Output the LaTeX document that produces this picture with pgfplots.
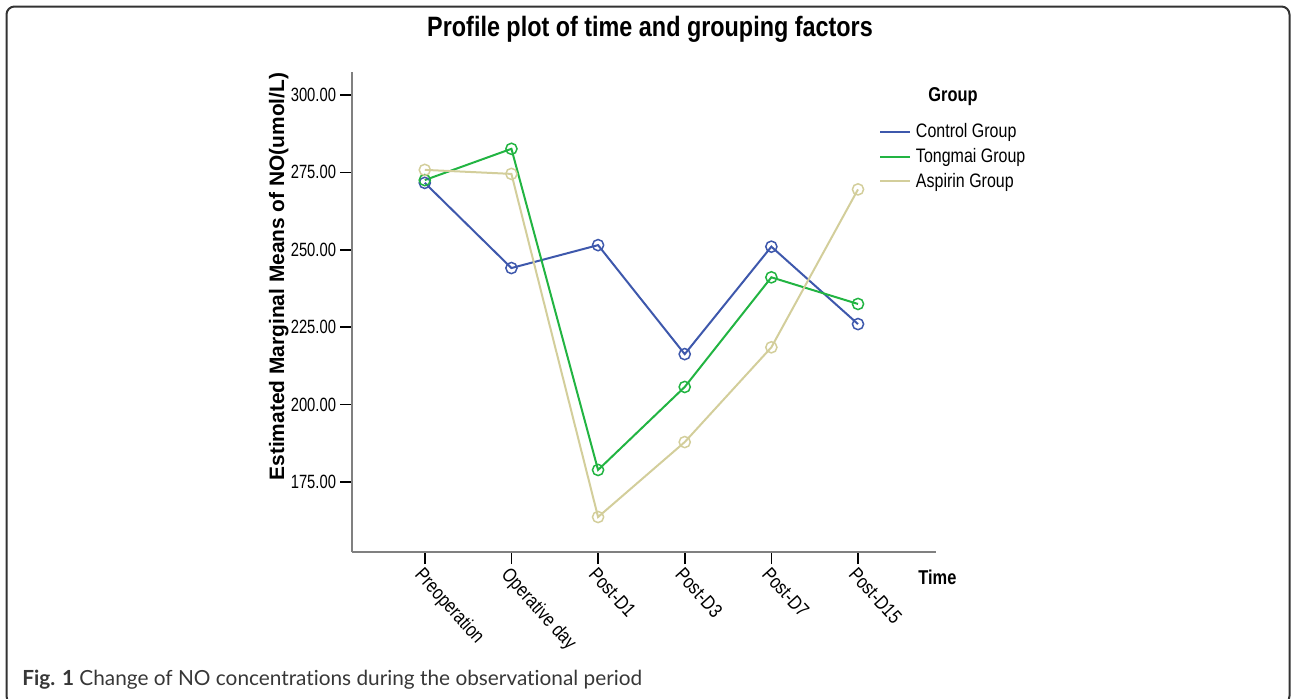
\documentclass[border=0pt]{standalone}
\usepackage{pgfplots}
\pgfplotsset{compat=1.18}
\usepackage{fontspec}
\setmainfont{Liberation Sans}
\newfontfamily\nfont{Liberation Sans}[FakeStretch=0.82]
\newfontfamily\tfont{Liberation Sans}[FakeStretch=0.835]
\newfontfamily\tickfont{Liberation Sans}[FakeStretch=0.77]
\newfontfamily\capfont{Lato}[Ligatures=NoCommon]
\definecolor{cblue}{RGB}{62,88,172}
\definecolor{cgreen}{RGB}{34,180,66}
\definecolor{cbeige}{RGB}{211,206,155}
\definecolor{axgray}{RGB}{128,128,128}
\definecolor{capgray}{RGB}{55,55,55}
\begin{document}
\begin{tikzpicture}
\path[use as bounding box] (0,0) rectangle (646pt,-349pt);
\draw[line width=1pt, color=black!80, rounded corners=4pt] (3.25pt,-3.25pt) rectangle (644.75pt,-352pt);
\begin{axis}[
  at={(176pt,-276pt)}, anchor=south west,
  scale only axis, width=292pt, height=240pt,
  xmin=-0.84, xmax=5.9, ymin=152.4, ymax=307.4,
  axis x line*=bottom, axis y line*=left,
  axis line style={axgray, line width=1pt, -},
  xtick={0,1,2,3,4,5},
  xticklabels={Preoperation,Operative day,Post-D1,Post-D3,Post-D7,Post-D15},
  ytick={175,200,225,250,275,300},
  tick align=outside, major tick length=6pt,
  tick style={black, line width=0.8pt},
  /pgf/number format/assume math mode=true,
  yticklabel style={/pgf/number format/.cd, fixed, fixed zerofill, precision=2, /tikz/.cd, font=\tickfont\fontsize{9.6}{11}\selectfont, inner sep=1pt, xshift=-0.8pt},
  xticklabel style={font=\nfont\fontsize{9.9}{11}\selectfont, rotate=-48, anchor=north west, inner sep=0.5pt},
  legend style={at={(rel axis cs:0.9024,0.897)}, anchor=north west, draw=none, fill=none,
    font=\nfont\fontsize{9.75}{11}\selectfont, row sep=2.2pt, column sep=1.5pt, inner sep=0pt,
    nodes={inner sep=0.8pt}},
  legend cell align=left,
  legend image code/.code={\draw[#1, mark=none] (0pt,0pt) -- (15pt,0pt);},
  clip=false,
]
\addplot[cblue, line width=1pt, mark=o, mark size=2.8pt, mark options={line width=0.75pt}]
  coordinates {(0,271.6) (1,244.1) (2,251.5) (3,216.3) (4,251.0) (5,226.0)};
\addlegendentry{Control Group}
\addplot[cgreen, line width=1pt, mark=o, mark size=2.8pt, mark options={line width=0.75pt}]
  coordinates {(0,272.5) (1,282.6) (2,178.9) (3,205.7) (4,241.1) (5,232.5)};
\addlegendentry{Tongmai Group}
\addplot[cbeige, line width=1pt, mark=o, mark size=2.8pt, mark options={line width=0.75pt}]
  coordinates {(0,275.8) (1,274.5) (2,163.7) (3,187.9) (4,218.5) (5,269.5)};
\addlegendentry{Aspirin Group}
\end{axis}
\node[anchor=base, font=\tfont\bfseries\fontsize{14}{16}\selectfont] at (325pt,-18.35pt) {Profile plot of time and grouping factors};
\node[anchor=base, rotate=90, font=\bfseries\fontsize{10.45}{12}\selectfont, inner sep=0pt] at (142pt,-138.3pt) {Estimated Marginal Means of NO(umol/L)};
\node[anchor=base west, font=\nfont\bfseries\fontsize{10}{12}\selectfont, inner sep=0pt] at (459pt,-292pt) {Time};
\node[anchor=base, font=\nfont\bfseries\fontsize{10}{12}\selectfont, inner sep=0pt] at (476.5pt,-50.5pt) {Group};
\node[anchor=base west, font=\capfont\fontsize{10.4}{12}\selectfont, text=capgray, inner sep=0pt] at (11pt,-342.5pt) {\textbf{Fig. 1} Change of NO concentrations during the observational period};
\end{tikzpicture}
\end{document}
